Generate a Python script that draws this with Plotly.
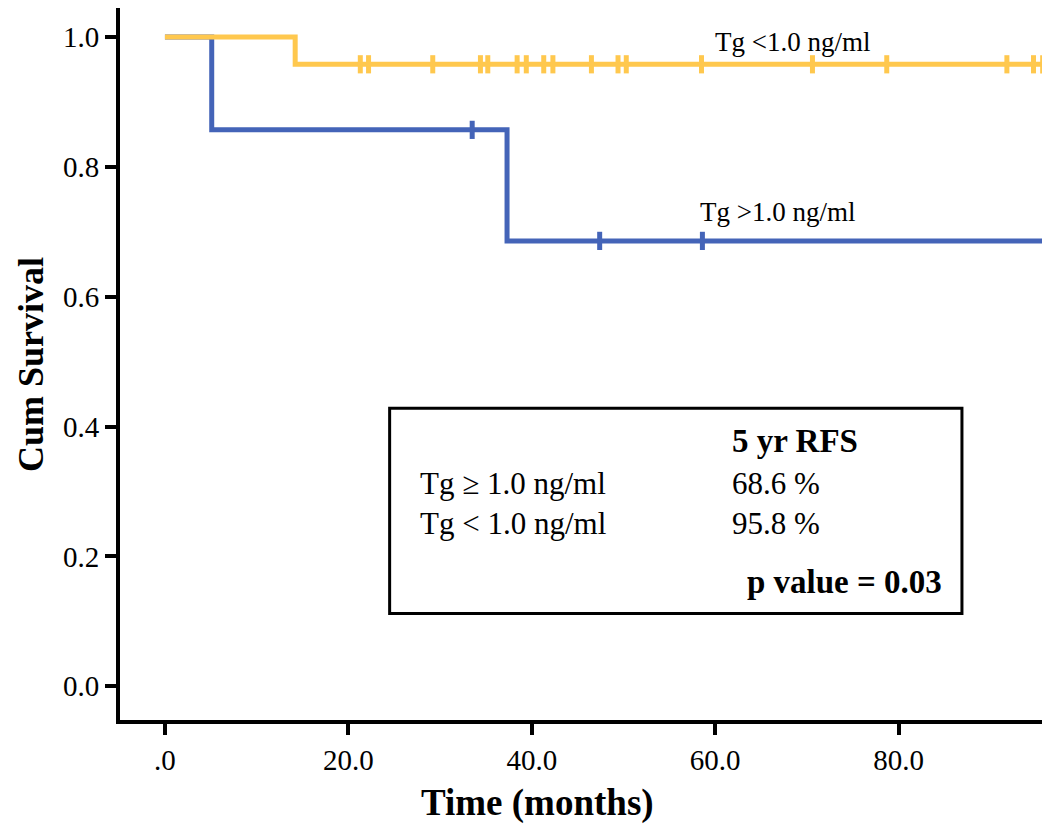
import plotly.graph_objects as go

# Kaplan-Meier step data
low_times = [0, 14.2, 96]
low_surv = [1.0, 0.958, 0.958]
low_censor = [21.3, 22.2, 29.2, 34.4, 35.2, 38.4, 39.4, 41.3, 42.3, 46.5,
              49.4, 50.3, 58.5, 70.6, 78.7, 91.8, 94.7, 95.7]
low_censor_surv = [0.958] * len(low_censor)

high_times = [0, 5.1, 37.3, 96]
high_surv = [1.0, 0.857, 0.686, 0.686]
high_censor = [33.5, 47.4, 58.6]
high_censor_surv = [0.857, 0.686, 0.686]

x_ticks = [0, 20, 40, 60, 80]
x_ticklabels = [".0", "20.0", "40.0", "60.0", "80.0"]
y_ticks = [0, 0.2, 0.4, 0.6, 0.8, 1.0]
y_ticklabels = ["0.0", "0.2", "0.4", "0.6", "0.8", "1.0"]

YELLOW = "#FFC84E"
BLUE = "#4464B8"
SERIF = "Liberation Serif, Times New Roman, serif"

# page body has an 8px margin: figure occupies window x 8..1050, y 8..825
W, H = 1042, 817
L, B = 112, 105
PW, PH = W - L, H - B  # plot area size

fig = go.Figure()
fig.add_trace(go.Scatter(x=high_times, y=high_surv, mode="lines", line_shape="hv",
                         line=dict(color=BLUE, width=5), hoverinfo="skip"))
fig.add_trace(go.Scatter(x=high_censor, y=high_censor_surv, mode="markers",
                         marker=dict(symbol="line-ns", size=13,
                                     line=dict(color=BLUE, width=5))))
fig.add_trace(go.Scatter(x=low_times, y=low_surv, mode="lines", line_shape="hv",
                         line=dict(color=YELLOW, width=5), hoverinfo="skip"))
fig.add_trace(go.Scatter(x=low_censor, y=low_censor_surv, mode="markers",
                         marker=dict(symbol="line-ns", size=13,
                                     line=dict(color=YELLOW, width=5))))

# summary box
fig.add_shape(type="rect", x0=24.5, x1=86.9, y0=0.112, y1=0.428,
              line=dict(color="black", width=3), fillcolor="white", layer="above")

reg_font = dict(family=SERIF, size=31, color="black")
bold_font = dict(family=SERIF, size=33, color="black")
anns = [
    dict(x=61.6, y=0.377, text="<b>5 yr RFS</b>", xanchor="left", font=bold_font),
    dict(x=27.6, y=0.313, text="Tg ≥ 1.0 ng/ml", xanchor="left", font=reg_font),
    dict(x=61.6, y=0.313, text="68.6 %", xanchor="left", font=reg_font),
    dict(x=27.6, y=0.250, text="Tg < 1.0 ng/ml", xanchor="left", font=reg_font),
    dict(x=61.6, y=0.250, text="95.8 %", xanchor="left", font=reg_font),
    dict(x=84.9, y=0.160, text="<b>p value = 0.03</b>", xanchor="right", font=bold_font),
]
for a in anns:
    fig.add_annotation(x=a["x"], y=a["y"], text=a["text"], xanchor=a["xanchor"],
                       yanchor="middle", showarrow=False, font=a["font"])

fig.add_annotation(x=59.8, y=0.993, text="Tg <1.0 ng/ml", xanchor="left", yanchor="middle",
                   showarrow=False, font=dict(family=SERIF, size=27, color="black"))
fig.add_annotation(x=58.1, y=0.731, text="Tg >1.0 ng/ml", xanchor="left", yanchor="middle",
                   showarrow=False, font=dict(family=SERIF, size=27, color="black"))

# axis titles (window pixel targets converted to paper coords)
fig.add_annotation(xref="paper", yref="paper", x=(537 - 120) / PW, y=(720 - 803) / PH,
                   text="<b>Time (months)</b>", showarrow=False, xanchor="center", yanchor="middle",
                   font=dict(family=SERIF, size=37, color="black"))
fig.add_annotation(xref="paper", yref="paper", x=(31 - 120) / PW, y=(720 - 365) / PH,
                   text="<b>Cum Survival</b>", textangle=-90, showarrow=False,
                   xanchor="center", yanchor="middle", borderpad=0,
                   font=dict(family=SERIF, size=36, color="black"))

fig.update_layout(
    width=W, height=H,
    margin=dict(l=L, r=0, t=0, b=B),
    plot_bgcolor="white", paper_bgcolor="white",
    showlegend=False,
    xaxis=dict(range=[-4.9, 96.5], tickvals=x_ticks, ticktext=x_ticklabels,
               showgrid=False, zeroline=False, showline=True, linecolor="black", linewidth=4,
               ticks="outside", ticklen=11, tickwidth=4, tickcolor="black",
               tickfont=dict(family=SERIF, size=29, color="black")),
    yaxis=dict(range=[-0.052, 1.0447], tickvals=y_ticks, ticktext=y_ticklabels,
               showgrid=False, zeroline=False, showline=True, linecolor="black", linewidth=4,
               ticks="outside", ticklen=11, tickwidth=4, tickcolor="black",
               tickfont=dict(family=SERIF, size=29, color="black")),
)

fig.write_html("out.html")
